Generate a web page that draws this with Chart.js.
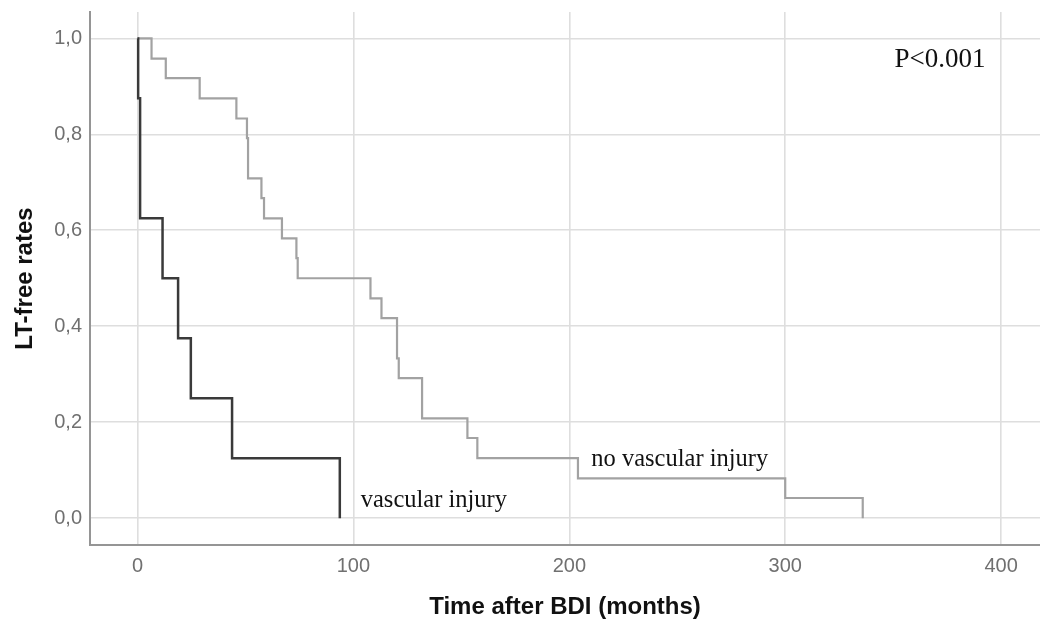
<!DOCTYPE html>
<html>
<head>
<meta charset="utf-8">
<script src="https://cdn.jsdelivr.net/npm/chart.js@4/dist/chart.umd.min.js"></script>
<style>
  body { margin: 0; background: #fff; }
  #wrap { width: 1040px; height: 626px; }
</style>
</head>
<body>
<div id="wrap"><canvas id="kmChart" width="1040" height="626"></canvas></div>
<script>
// Kaplan-Meier estimates (months, LT-free rate after each event)
const vascMonths = [0, 0.3, 1.2, 11.6, 18.8, 24.7, 43.8, 93.7];
const vascRate   = [1, 0.875, 0.625, 0.5, 0.375, 0.25, 0.125, 0];

const noVascMonths = [0, 6.5, 13.1, 28.8, 45.8, 50.7, 51.2, 57.4, 58.6, 66.9, 73.6, 74.2,
                      107.9, 113.0, 120.2, 121.0, 131.8, 152.8, 157.4, 204.0, 300.0, 335.9];
const noVascRate   = [1, 0.958, 0.917, 0.875, 0.833, 0.792, 0.708, 0.667, 0.625, 0.583, 0.542, 0.5,
                      0.458, 0.417, 0.333, 0.292, 0.208, 0.167, 0.125, 0.083, 0.042, 0];

const xTicks = [0, 100, 200, 300, 400];
const yTicks = [0, 0.2, 0.4, 0.6, 0.8, 1.0];

// text notes drawn inside the plot: [text, x (months), y (rate at baseline)]
const notes = [
  ["vascular injury", 103.4, 0.024],
  ["no vascular injury", 210.2, 0.109],
  ["P<0.001", 350.6, 0.94]
];
const noteSizes = [24.5, 24.5, 27];

function toPoints(xs, ys) {
  return xs.map((x, i) => ({x: x, y: ys[i]}));
}

const notesPlugin = {
  id: "notes",
  afterDatasetsDraw(chart) {
    const ctx = chart.ctx;
    const xs = chart.scales.x, ys = chart.scales.y;
    ctx.save();
    ctx.fillStyle = "#111";
    ctx.textAlign = "left";
    ctx.textBaseline = "alphabetic";
    notes.forEach((n, i) => {
      ctx.font = noteSizes[i] + "px 'Liberation Serif', 'Times New Roman', serif";
      ctx.fillText(n[0], xs.getPixelForValue(n[1]), ys.getPixelForValue(n[2]));
    });
    ctx.restore();
  }
};

const tickFont = {family: "'Liberation Sans', Arial, sans-serif", size: 20};
const titleFont = {family: "'Liberation Sans', Arial, sans-serif", size: 24, weight: "bold"};

new Chart(document.getElementById("kmChart"), {
  type: "line",
  data: {
    datasets: [
      {
        label: "vascular injury",
        data: toPoints(vascMonths, vascRate),
        borderColor: "#3a3a3a",
        borderWidth: 2.5,
        stepped: "before",
        pointRadius: 0,
        fill: false,
        order: 0
      },
      {
        label: "no vascular injury",
        data: toPoints(noVascMonths, noVascRate),
        borderColor: "#a2a2a2",
        borderWidth: 2.2,
        stepped: "before",
        pointRadius: 0,
        fill: false,
        order: 1
      }
    ]
  },
  options: {
    responsive: false,
    animation: false,
    layout: {padding: {top: 12, right: 0, left: 0, bottom: 0}},
    plugins: {legend: {display: false}, tooltip: {enabled: false}},
    scales: {
      x: {
        type: "linear",
        min: -22,
        max: 418,
        afterFit(scale) {
          scale.height = 81;
          scale.paddingLeft = 0;
          scale.paddingRight = 0;
        },
        afterBuildTicks(scale) { scale.ticks = xTicks.map(v => ({value: v})); },
        ticks: {
          font: tickFont,
          color: "#707070",
          padding: 9,
          includeBounds: false,
          callback: v => String(v)
        },
        grid: {color: "#dedede", lineWidth: 1.6, drawTicks: false},
        border: {display: true, color: "#959595", width: 2},
        title: {
          display: true,
          text: "Time after BDI (months)",
          font: titleFont,
          color: "#111",
          padding: {top: 0, bottom: 4}
        }
      },
      y: {
        type: "linear",
        min: -0.056,
        max: 1.055,
        afterFit(scale) {
          scale.width = 90;
          scale.paddingTop = 0;
          scale.paddingBottom = 0;
        },
        afterBuildTicks(scale) { scale.ticks = yTicks.map(v => ({value: v})); },
        ticks: {
          font: tickFont,
          color: "#707070",
          padding: 8,
          includeBounds: false,
          callback: v => v.toFixed(1).replace(".", ",")
        },
        grid: {color: "#dedede", lineWidth: 1.6, drawTicks: false},
        border: {display: true, color: "#959595", width: 2},
        title: {
          display: true,
          text: "LT-free rates",
          font: titleFont,
          color: "#111",
          padding: {top: 11, bottom: 0}
        }
      }
    }
  },
  plugins: [notesPlugin]
});
</script>
</body>
</html>
